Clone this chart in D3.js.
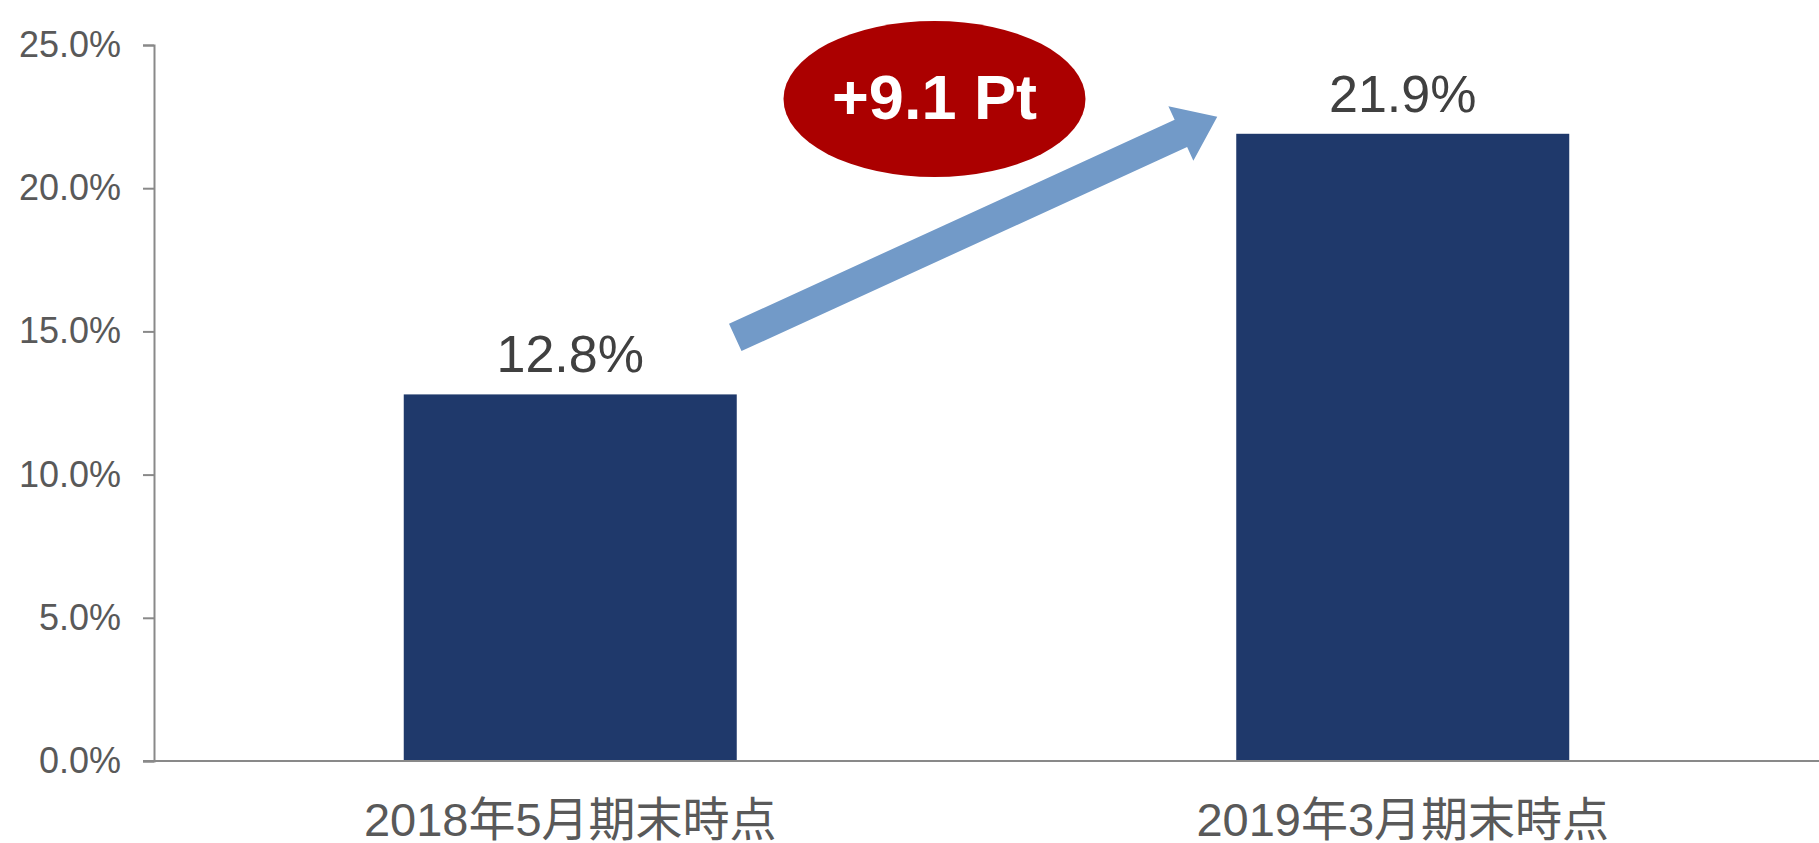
<!DOCTYPE html>
<html>
<head>
<meta charset="utf-8">
<script src="https://cdn.jsdelivr.net/npm/d3@7"></script>
<style>
  body { margin: 0; background: #fff; }
  svg { display: block; }
  text { font-family: "Liberation Sans", Arial, "Noto Sans CJK JP", sans-serif; }
</style>
</head>
<body>
<svg width="1819" height="843"></svg>
<script>
// chart data
var categories = ["2018年5月期末時点", "2019年3月期末時点"];
var values = [12.8, 21.9];
var yTicks = [0, 5, 10, 15, 20, 25];
var changeLabel = "+9.1 Pt";

var svg = d3.select("svg"),
    width = +svg.attr("width"),
    height = +svg.attr("height");

// note: "top" is reserved on window, so use plot* names
var plotLeft = 154, plotRight = width, plotTop = 45, plotBottom = 761;

var x = d3.scaleBand()
    .domain(categories)
    .range([plotLeft, plotRight])
    .paddingInner(0.6)
    .paddingOuter(0.3);

var y = d3.scaleLinear()
    .domain([0, 25])
    .range([plotBottom, plotTop]);

// y axis
var yAxis = svg.append("g")
    .attr("transform", "translate(" + plotLeft + ",0)")
    .call(d3.axisLeft(y).tickValues(yTicks).tickSize(11).tickPadding(22)
        .tickFormat(function(d) { return d.toFixed(1) + "%"; }));
yAxis.select(".domain").attr("stroke", "#898989").attr("stroke-width", 2);
yAxis.selectAll(".tick line").attr("stroke", "#898989").attr("stroke-width", 2);
yAxis.selectAll(".tick text")
    .attr("fill", "#595959")
    .style("font-size", "36px")
    .style("font-family", "'Liberation Sans', Arial, sans-serif");

// bars
svg.selectAll(".bar")
    .data(values)
    .enter().append("rect")
    .attr("class", "bar")
    .attr("x", function(d, i) { return x(categories[i]); })
    .attr("y", function(d) { return y(d); })
    .attr("width", x.bandwidth())
    .attr("height", function(d) { return y(0) - y(d); })
    .attr("fill", "#1f396b");

// x axis line
svg.append("line")
    .attr("x1", plotLeft - 11).attr("x2", plotRight)
    .attr("y1", y(0)).attr("y2", y(0))
    .attr("stroke", "#898989")
    .attr("stroke-width", 2);

// category labels
svg.selectAll(".cat")
    .data(categories)
    .enter().append("text")
    .attr("class", "cat")
    .attr("x", function(d) { return x(d) + x.bandwidth() / 2; })
    .attr("y", y(0) + 75)
    .attr("text-anchor", "middle")
    .attr("fill", "#595959")
    .style("font-size", "47px")
    .text(function(d) { return d; });

// value labels
svg.selectAll(".val")
    .data(values)
    .enter().append("text")
    .attr("class", "val")
    .attr("x", function(d, i) { return x(categories[i]) + x.bandwidth() / 2; })
    .attr("y", function(d) { return y(d) - 22; })
    .attr("text-anchor", "middle")
    .attr("fill", "#404040")
    .style("font-size", "52px")
    .text(function(d) { return d.toFixed(1) + "%"; });

// arrow from first bar to second
var x0 = x(categories[0]) + x.bandwidth() - 1.5, y0 = y(values[0]) - 57,
    x1 = x(categories[1]) - 19, y1 = y(values[1]) - 17;
var len = Math.sqrt((x1 - x0) * (x1 - x0) + (y1 - y0) * (y1 - y0)),
    ang = Math.atan2(y1 - y0, x1 - x0) * 180 / Math.PI;
var hw = 15, headW = 30, headL = 40;
var pts = [[0, -hw], [len - headL, -hw], [len - headL, -headW], [len, 0],
           [len - headL, headW], [len - headL, hw], [0, hw]];
svg.append("polygon")
    .attr("points", pts.map(function(p) { return p.join(","); }).join(" "))
    .attr("transform", "translate(" + x0 + "," + y0 + ") rotate(" + ang + ")")
    .attr("fill", "#729ac8");

// change badge
var cx = (x(categories[0]) + x(categories[1]) + x.bandwidth()) / 2 - 52;
svg.append("ellipse")
    .attr("cx", cx)
    .attr("cy", 99)
    .attr("rx", 151)
    .attr("ry", 78)
    .attr("fill", "#ab0000");
svg.append("text")
    .attr("x", cx)
    .attr("y", 119)
    .attr("text-anchor", "middle")
    .attr("fill", "#fff")
    .style("font-size", "63px")
    .style("font-weight", "bold")
    .text(changeLabel);
</script>
</body>
</html>
